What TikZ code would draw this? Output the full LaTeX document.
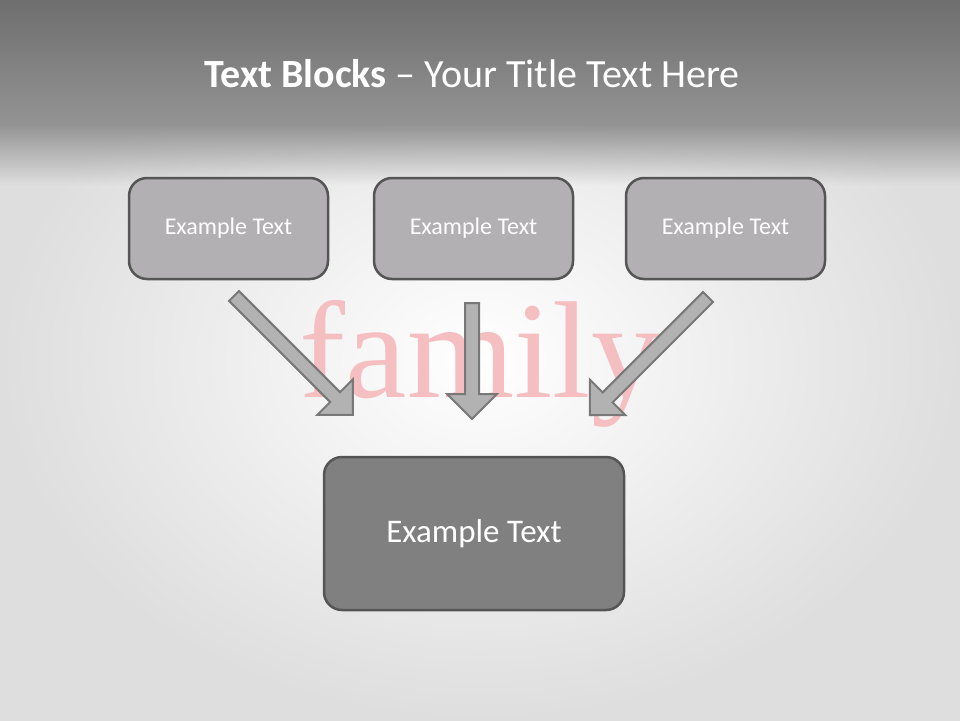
\documentclass[tikz,border=0pt]{standalone}
\usepackage{fontspec}
\setmainfont{Carlito}
\newfontfamily\bgserif{Liberation Serif}
\usetikzlibrary{positioning,fadings}

\definecolor{bandtop}{RGB}{110,110,110}
\definecolor{bandbot}{RGB}{148,148,148}
\definecolor{bgedge}{RGB}{222,222,222}
\definecolor{boxlight}{RGB}{178,176,178}
\definecolor{boxdark}{RGB}{128,128,128}
\definecolor{boxedge}{RGB}{85,85,85}
\definecolor{arrowfill}{RGB}{178,178,178}
\definecolor{arrowedge}{RGB}{120,120,120}
\definecolor{wordpink}{RGB}{245,190,193}

\tikzfading[name=bandfade, top color=transparent!0, bottom color=transparent!100]

\tikzset{
  smallblock/.style={draw=boxedge, line width=2.5pt, fill=boxlight,
    rounded corners=18pt, minimum width=199pt, minimum height=101pt,
    text=white, font=\fontsize{24}{28}\selectfont},
  bigblock/.style={smallblock, fill=boxdark, minimum width=300pt,
    minimum height=153pt, font=\fontsize{33}{38}\selectfont},
  blockarrow/.style={draw=arrowedge, fill=arrowfill, line width=2pt},
}

% fat arrow: tail, angle, length
\newcommand{\fatarrow}[3]{%
  \begin{scope}[shift={#1}, rotate=#2]
    \draw[blockarrow] (0,-7) -- ({#3-25},-7) -- ({#3-25},-25) -- (#3,0)
      -- ({#3-25},25) -- ({#3-25},7) -- (0,7) -- cycle;
  \end{scope}}

\begin{document}
\begin{tikzpicture}[x=1pt,y=-1pt]
    \useasboundingbox (0,0) rectangle (960,720);
    % background
    \shade[inner color=white, outer color=bgedge] (0,0) rectangle (960,720);
    \shade[top color=bandtop, bottom color=bandbot] (0,0) rectangle (960,126);
    \fill[bandbot, path fading=bandfade] (-20,125) rectangle (980,185);
    \node[anchor=base, text=wordpink, font=\bgserif\fontsize{138}{138}\selectfont]
      (word) at (480,397) {family};
    % title
    \node[anchor=base west, inner sep=0, text=white, font=\fontsize{40}{46}\selectfont]
      (title) at (204,87) {\textbf{Text Blocks} -- Your Title Text Here};
    % blocks
    \node[smallblock] (exl) at (228.5,228.5) {Example Text};
    \node[smallblock] (exm) at (473.5,228.5) {Example Text};
    \node[smallblock] (exr) at (725.5,228.5) {Example Text};
    \node[bigblock] (exb) at (474,533.5) {Example Text};
    % arrows
    \coordinate (tl) at (234,296);
    \coordinate (tm) at (472,303);
    \coordinate (tr) at (708,297);
    \fatarrow{(tl)}{-45}{168}
    \fatarrow{(tm)}{-90}{116}
    \fatarrow{(tr)}{-135}{167}
\end{tikzpicture}
\end{document}
